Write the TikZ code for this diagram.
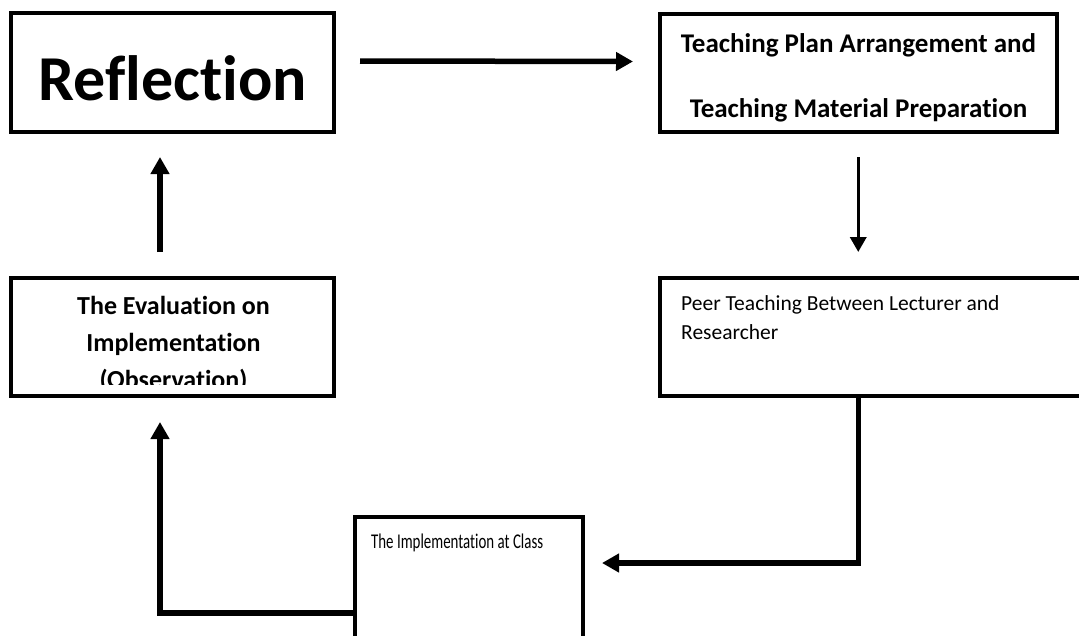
\documentclass[tikz,border=0pt]{standalone}
\usepackage{fontspec}
\setmainfont{Carlito}[Ligatures=CommonOff]
\usetikzlibrary{arrows.meta}
\tikzset{
  box/.style={draw, line width=4pt, rectangle, inner sep=0pt},
  arr/.style={line width=5.5pt, -{Triangle[width=18pt,length=17pt]}, line join=miter},
  thinarr/.style={line width=3.5pt, -{Triangle[width=16pt,length=15pt]}},
  boldtxt/.style={font=\fontsize{26}{30}\selectfont\bfseries, inner sep=0pt},
  plaintxt/.style={font=\fontsize{21.5}{26}\selectfont, inner sep=0pt},
}
\begin{document}
\begin{tikzpicture}[x=1pt,y=-1pt]
\useasboundingbox[fill=white] (0,0) rectangle (1079,635);
% boxes
\node[box, minimum width=323pt, minimum height=119pt] (refl) at (172.5,72.5) {};
\node[box, minimum width=397.5pt, minimum height=118pt] (tp) at (858.25,73) {};
\node[box, minimum width=323pt, minimum height=117.5pt] (eval) at (172.5,336.75) {};
\node[box, minimum width=440.5pt, minimum height=118pt] (peer) at (879.75,336.5) {};
\node[box, minimum width=228pt, minimum height=143pt] (impl) at (469,588.5) {};
% texts
\node[font=\fontsize{64}{70}\selectfont\bfseries, inner sep=0pt, anchor=base] (t1) at (172.5,100.5) {Reflection};
\node[boldtxt, font=\fontsize{27}{30}\selectfont\bfseries, anchor=base] (t2a) at (858.5,52) {Teaching Plan Arrangement and};
\node[boldtxt, font=\fontsize{27}{30}\selectfont\bfseries, anchor=base] (t2b) at (858.5,117) {Teaching Material Preparation};
\node[boldtxt, anchor=base] (t3a) at (173.5,314) {The Evaluation on};
\node[boldtxt, anchor=base] (t3b) at (173.5,351) {Implementation};
\begin{scope}
\clip (0,280) rectangle (336,384.5);
\node[boldtxt, anchor=base] (t3c) at (173.5,388) {(Observation)};
\end{scope}
\node[plaintxt, anchor=base west] (t4a) at (681,310) {Peer Teaching Between Lecturer and};
\node[plaintxt, anchor=base west] (t4b) at (681,339) {Researcher};
\node[plaintxt, font=\fontsize{21}{26}\selectfont, anchor=base west, xscale=0.71] (t5) at (371,548) {The Implementation at Class};
% connectors
\draw[arr] ([shift={(24,-11.5)}]refl.east) -- ([shift={(-24.5,-11.5)}]tp.west);
\draw[thinarr, shorten <=23pt, shorten >=23.5pt] (tp.south) -- (tp.south |- peer.north);
\draw[arr] (tp.south |- peer.south) |- ([shift={(17,-25.5)}]impl.east);
\draw[arr, shorten >=24.5pt] ([yshift=-24.5]impl.west) -| ([xshift=-12.5]eval.south);
\draw[arr, shorten <=24pt, shorten >=23pt] ([xshift=-12.5]eval.north) -- ([xshift=-12.5]refl.south);
\end{tikzpicture}
\end{document}
